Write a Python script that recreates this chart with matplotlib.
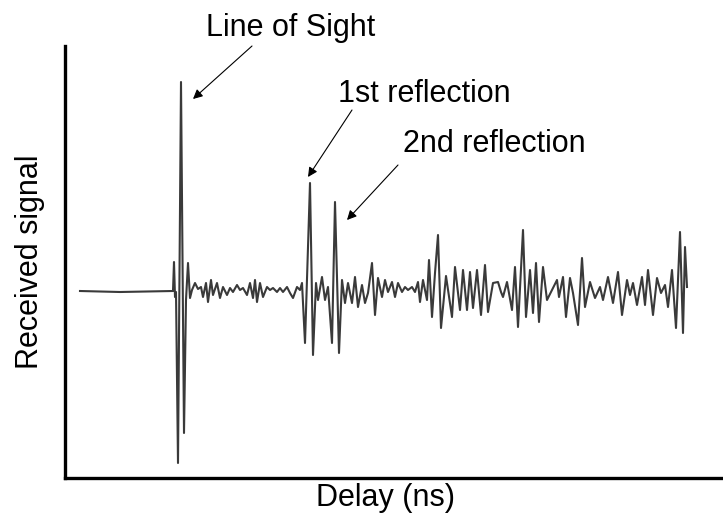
import matplotlib
matplotlib.use("Agg")
import matplotlib.pyplot as plt
import numpy as np

plt.rcParams['font.family'] = ['Liberation Sans', 'DejaVu Sans']

# Waveform: delay (arbitrary ns units) and received amplitude
delay_px = [80, 120, 173, 174, 175, 176, 178, 181, 184, 186, 188, 190,
            192, 195, 198, 201, 203, 206, 208, 211, 213, 217, 220, 223, 227, 230, 233, 237, 240, 243,
            247, 250, 253, 255, 257, 260, 263, 267, 270, 273, 277, 280, 283, 287, 290, 293, 297, 300, 302,
            305, 310, 313, 316, 318, 322, 325, 328, 332, 335, 339, 342, 345, 348, 352, 355, 358, 362,
            365, 368, 372, 375, 378, 382, 385, 388, 392, 395, 398, 402, 405, 408, 412, 415, 418, 420,
            423, 427, 429, 432, 435, 438, 441, 446, 452, 455, 460, 463, 467, 470, 473, 477, 481, 485,
            488, 493, 498, 501, 503, 507, 512, 515, 518, 523, 526, 530, 533, 536, 539, 543, 547, 552,
            557, 559, 563, 566, 570, 573, 578, 582, 585, 590, 595, 600, 603, 608, 613, 618, 622, 627,
            630, 633, 637, 642, 645, 648, 653, 657, 661, 665, 668, 672, 676, 680, 683, 685, 687]
signal_px = [291, 292, 291, 262, 297, 292, 463, 82, 433, 300, 263, 298,
             290, 283, 289, 287, 297, 283, 302, 280, 295, 283, 298, 287, 295, 288, 292, 285, 290, 288,
             295, 283, 298, 280, 302, 283, 297, 287, 290, 288, 292, 288, 292, 287, 293, 298, 287, 290, 283,
             343, 183, 355, 283, 300, 277, 300, 287, 343, 202, 353, 280, 303, 283, 303, 277, 307, 285,
             303, 293, 263, 315, 278, 297, 280, 292, 282, 297, 283, 292, 287, 290, 287, 292, 282, 302,
             280, 300, 260, 317, 273, 235, 328, 276, 317, 267, 310, 270, 310, 272, 308, 270, 315, 265,
             312, 283, 282, 292, 297, 282, 310, 267, 327, 230, 317, 270, 313, 263, 322, 267, 300, 290,
             280, 297, 277, 317, 278, 293, 325, 258, 307, 282, 298, 287, 300, 277, 303, 272, 315, 280,
             295, 283, 305, 277, 305, 270, 315, 278, 293, 285, 307, 270, 328, 232, 333, 247, 287]

delay = [d - 65 for d in delay_px]
signal = [291 - s for s in signal_px]

labels = ["Line of Sight", "1st reflection", "2nd reflection"]
arrow_heads = [(128, 192), (243, 114), (282, 71)]
arrow_tails = [(187, 245), (287, 181), (333, 126)]

W, H = 723, 520
fig = plt.figure(figsize=(W / 100, H / 100), dpi=100)
ax = fig.add_axes([65 / W, (H - 478) / H, (W - 65) / W, (478 - 46) / H])
ax.plot(delay, signal, color='#3a3a3a', lw=1.5, solid_joinstyle='round')
ax.set_xlim(0, 658)
ax.set_ylim(291 - 478, 291 - 46)
for s in ['top', 'right']:
    ax.spines[s].set_visible(False)
for s in ['left', 'bottom']:
    ax.spines[s].set_linewidth(2.4)
    ax.spines[s].set_color('black')
ax.set_xticks([])
ax.set_yticks([])

for head, tail in zip(arrow_heads, arrow_tails):
    ax.annotate('', xy=head, xytext=tail,
                arrowprops=dict(arrowstyle='-|>', color='black', lw=0.8,
                                mutation_scale=14, shrinkA=0, shrinkB=0))

fs = 22
fig.text(291 / W, 1 - 28 / H, labels[0], ha='center', va='center', fontsize=fs)
fig.text(424 / W, 1 - 94 / H, labels[1], ha='center', va='center', fontsize=fs)
fig.text(494 / W, 1 - 144 / H, labels[2], ha='center', va='center', fontsize=fs)
fig.text(386 / W, 1 - 498 / H, "Delay (ns)", ha='center', va='center', fontsize=fs)
fig.text(30 / W, 1 - 262 / H, "Received signal", ha='center', va='center', fontsize=fs, rotation=90)

fig.savefig("out.png", dpi=100)
